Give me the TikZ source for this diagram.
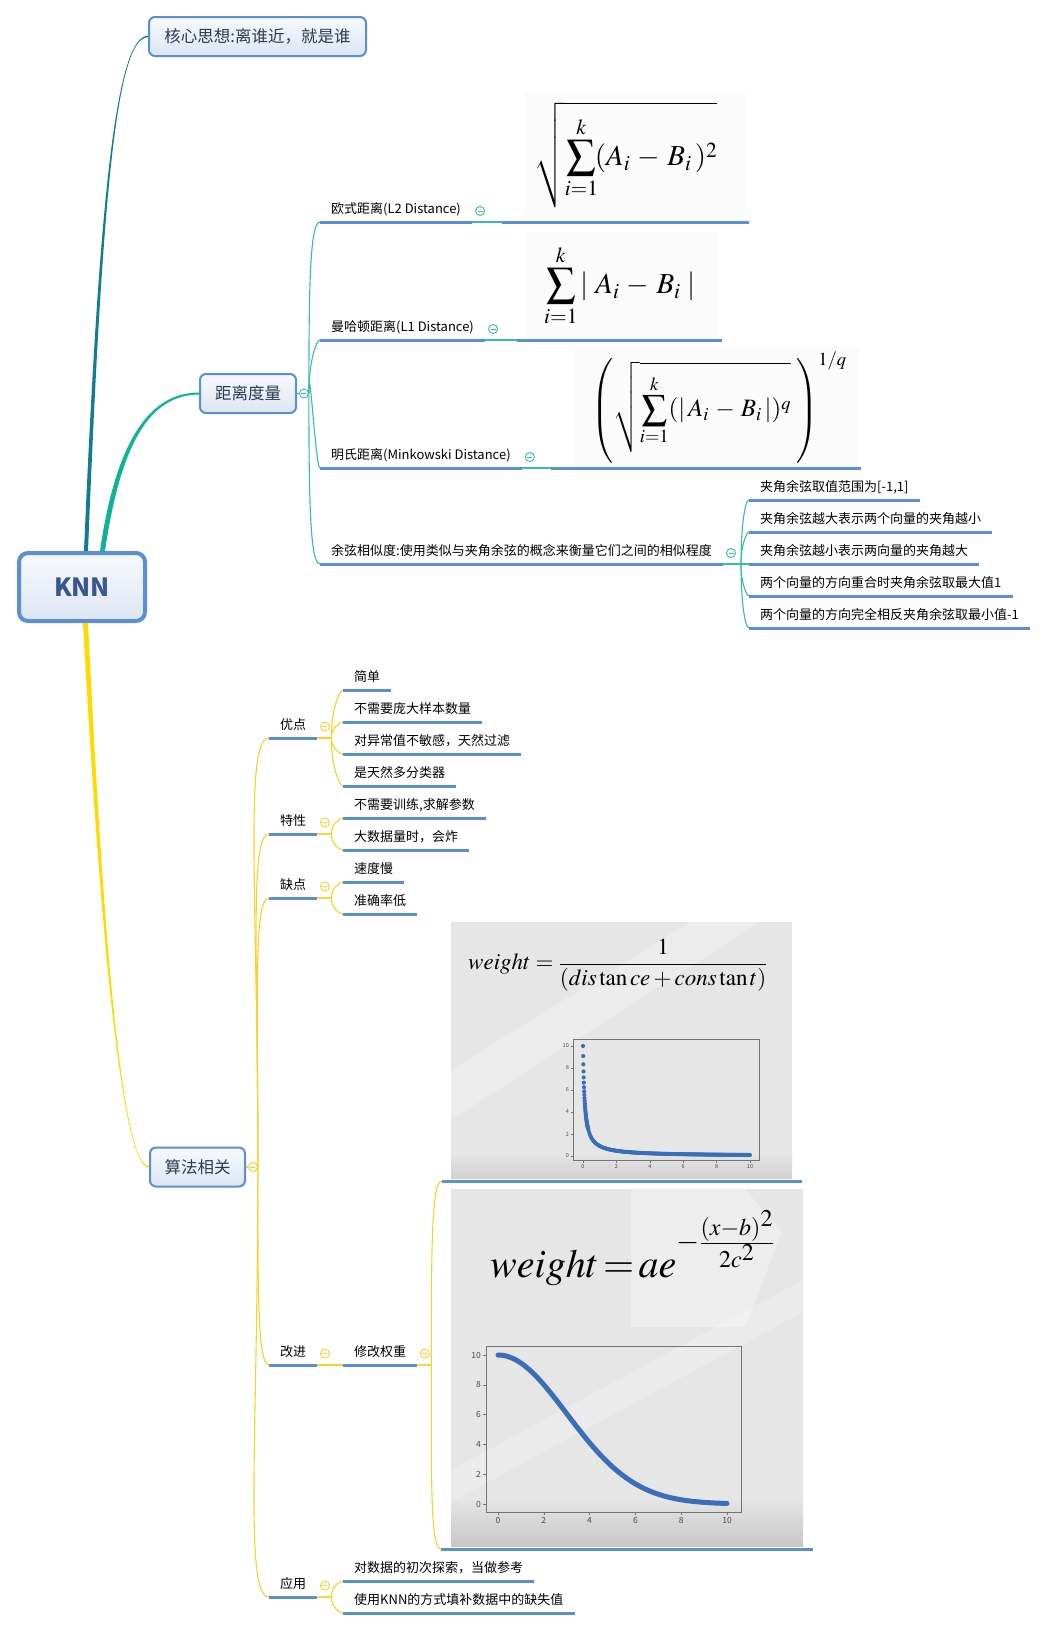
\documentclass[tikz,border=0pt]{standalone}
\usepackage{mathptmx}
\usepackage[no-math]{fontspec}
\setmainfont{Noto Sans CJK SC}
\usepackage{tikz}
\usetikzlibrary{positioning,shapes}
\usepackage{xcolor}
\definecolor{mmblue}{RGB}{91,143,213}
\definecolor{mmtop}{RGB}{247,249,253}
\definecolor{mmbot}{RGB}{221,230,243}
\definecolor{mmtext}{RGB}{44,58,82}
\definecolor{knntext}{RGB}{56,88,140}
\definecolor{mmdark}{RGB}{18,124,145}
\definecolor{mmgreen}{RGB}{16,178,152}
\definecolor{mmteal}{RGB}{52,190,168}
\definecolor{mmyellow}{RGB}{255,218,0}
\definecolor{mmyel}{RGB}{247,210,40}
\definecolor{ptblue}{RGB}{58,110,184}
\definecolor{imgbg}{RGB}{230,230,230}
\tikzstyle{root} = [rectangle, rounded corners=9, draw=mmblue, line width=4, top color=mmtop, bottom color=mmbot, text=knntext, minimum width=126, minimum height=68, font=\bfseries\fontsize{25}{28}\selectfont]
\tikzstyle{topic} = [rectangle, rounded corners=6, draw=mmblue, line width=2, top color=mmtop, bottom color=mmbot, text=mmtext, minimum height=39, font=\fontsize{16.5}{20}\selectfont]
\tikzstyle{leaf} = [anchor=south west, inner xsep=11, inner ysep=5.5, text height=10, text depth=3, font=\fontsize{13}{15}\selectfont]
\tikzstyle{formula} = [anchor=south west, inner sep=0, font=\fontsize{29}{32}\selectfont]
\tikzstyle{slot} = [anchor=south west, inner sep=0]
\tikzstyle{uline} = [line width=3, draw=mmblue]
\tikzstyle{tline} = [line width=1.1, draw=mmteal]
\tikzstyle{yline} = [line width=1.1, draw=mmyel]
\tikzstyle{minusg} = [circle, draw=mmteal, fill=white, line width=0.9, minimum size=9, inner sep=0, path picture={\draw[mmteal, line width=0.9] ([xshift=2pt]path picture bounding box.west) -- ([xshift=-2pt]path picture bounding box.east);}]
\tikzstyle{minusy} = [circle, draw=mmyel, fill=white, line width=0.9, minimum size=9, inner sep=0, path picture={\draw[mmyel, line width=0.9] ([xshift=2pt]path picture bounding box.west) -- ([xshift=-2pt]path picture bounding box.east);}]
\tikzstyle{fan} = [in=180, out looseness=1.6, in looseness=0.15]
\tikzstyle{plotframe} = [draw=black!55, line width=0.8]
\tikzstyle{ticklabel} = [inner sep=1, text=black!70]

\begin{document}
\begin{tikzpicture}[x=1pt, y=1pt]
\useasboundingbox (0,0) rectangle (1050,-1630);

% Backgrounds of the formula pictures
\fill[black!1.5] (525,-93) rectangle (746,-220);
\fill[black!1.5] (525,-232) rectangle (719,-337);
\fill[black!1.5] (575,-347) rectangle (859,-466);
\fill[imgbg] (451,-922) rectangle (792,-1178);
\fill[white, opacity=0.25] (451,-1070) -- (690,-922) -- (760,-922) -- (451,-1120) -- cycle;
\shade[top color=imgbg, bottom color=black!18] (451,-1152) rectangle (792,-1178);
\fill[imgbg] (451,-1189) rectangle (803,-1546);
\fill[white, opacity=0.3] (631,-1189) -- (745,-1189) -- (782,-1232) -- (745,-1327) -- (631,-1327) -- cycle;
\fill[white, opacity=0.2] (451,-1470) -- (803,-1280) -- (803,-1312) -- (451,-1502) -- cycle;
\shade[top color=imgbg, bottom color=black!22] (451,-1498) rectangle (803,-1546);

% Root and main topics
\node[root] (knn) at (82,-587) {KNN};
\node[topic, minimum width=217] (core) at (257.5,-36.5) {核心思想:离谁近，就是谁};
\node[topic, minimum width=96] (dist) at (248,-393.5) {距离度量};
\node[topic, minimum width=95] (algo) at (197.5,-1167) {算法相关};
\node[minusg, right=2pt of dist] (distm) {};
\node[minusy, right=2pt of algo] (algom) {};

% Distances
\node[leaf] (l2) at (320,-222) {欧式距离(L2 Distance)};
\node[leaf] (l1) at (320,-340) {曼哈顿距离(L1 Distance)};
\node[leaf] (lp) at (320,-468) {明氏距离(Minkowski Distance)};
\node[leaf] (cos) at (320,-564) {余弦相似度:使用类似与夹角余弦的概念来衡量它们之间的相似程度};
\node[formula, minimum width=247, text depth=56] (l2f) at (502,-222) {$\displaystyle\sqrt{\sum_{i=1}^{k}\!(A_i\,-\,B_i\,)^2}$};
\node[formula, minimum width=205, text depth=46] (l1f) at (517,-340) {$\displaystyle\sum_{i=1}^{k}|\;A_i\,-\,B_i\;|$};
\node[formula, minimum width=310, text depth=51, font=\fontsize{25}{28}\selectfont] (lpf) at (551,-468) {\hspace*{26pt}$\displaystyle\left(\sqrt{\sum_{i=1}^{k}(|\,A_i\,-\,B_i\,|)^q}\;\right)^{1/q}$};
\foreach \n in {l2,l1,lp,cos}
  \node[minusg, above right=7.5pt and 4.5pt of \n.south east] (\n-m) {};

% Cosine
\node[leaf] (c1) at (749,-500) {夹角余弦取值范围为[-1,1]};
\node[leaf] (c2) at (749,-532) {夹角余弦越大表示两个向量的夹角越小};
\node[leaf] (c3) at (749,-564) {夹角余弦越小表示两向量的夹角越大};
\node[leaf] (c4) at (749,-596) {两个向量的方向重合时夹角余弦取最大值1};
\node[leaf] (c5) at (749,-628) {两个向量的方向完全相反夹角余弦取最小值-1};

% Algorithm
\node[leaf] (pro) at (269,-738) {优点};
\node[leaf] (feat) at (269,-834) {特性};
\node[leaf] (con) at (269,-898) {缺点};
\node[leaf] (imp) at (269,-1365) {改进};
\node[leaf] (app) at (269,-1597) {应用};
\node[leaf] (p1) at (343,-690) {简单};
\node[leaf] (p2) at (343,-722) {不需要庞大样本数量};
\node[leaf] (p3) at (343,-754) {对异常值不敏感，天然过滤};
\node[leaf] (p4) at (343,-786) {是天然多分类器};
\node[leaf] (f1) at (343,-818) {不需要训练,求解参数};
\node[leaf] (f2) at (343,-850) {大数据量时，会炸};
\node[leaf] (n1) at (343,-882) {速度慢};
\node[leaf] (n2) at (343,-914) {准确率低};
\node[leaf] (w) at (343,-1365) {修改权重};
\node[slot, minimum width=360, minimum height=259] (img1) at (442,-1181) {};
\node[slot, minimum width=372, minimum height=360] (img2) at (441,-1549) {};
\node[leaf] (u1) at (343,-1581) {对数据的初次探索，当做参考};
\node[leaf] (u2) at (343,-1613) {使用KNN的方式填补数据中的缺失值};
\foreach \n in {pro,feat,con,imp,w,app}
  \node[minusy, above right=8pt and 4pt of \n.south east] (\n-m) {};

% Weight formulas
\node[anchor=west, inner sep=0, font=\fontsize{23}{27}\selectfont] (wt1) at (468,-965) {$\displaystyle weight=\frac{1}{(dis\tan ce+cons\tan t)}$};
\node[anchor=base west, inner sep=0, font=\fontsize{40}{44}\selectfont] (wt2) at (490,-1277) {$weight\,{=}\,ae^{\raisebox{12pt}{$\scriptstyle-\frac{(x-b)^2}{2c^2}$}}$};

% Plots
\draw[plotframe] (573,-1039) rectangle (759,-1160);
\foreach \v in {0,2,...,10} {
  \draw[plotframe, line width=0.5] (573,{-1156+11*\v}) -- ++(-2.5,0);
  \node[ticklabel, anchor=east, font=\fontsize{5.5}{6}\selectfont] (ya\v) at (570,{-1156+11*\v}) {\v};
  \draw[plotframe, line width=0.5] ({583+16.7*\v},-1160) -- ++(0,-2.5);
  \node[ticklabel, anchor=north, font=\fontsize{5.5}{6}\selectfont] (xa\v) at ({583+16.7*\v},-1163) {\v};
}
\foreach \d in {0,0.01,...,0.3}
  \fill[ptblue] ({583+16.7*\d},{-1156+11/(\d+0.1)}) circle (2.1);
\foreach \d in {0.32,0.36,...,10}
  \fill[ptblue] ({583+16.7*\d},{-1156+11/(\d+0.1)}) circle (2);

\draw[plotframe] (486,-1346) rectangle (741,-1512);
\foreach \v in {0,2,...,10} {
  \draw[plotframe, line width=0.6] (486,{-1504+14.9*\v}) -- ++(-3,0);
  \node[ticklabel, anchor=east, font=\fontsize{8.5}{9}\selectfont] (yb\v) at (482,{-1504+14.9*\v}) {\v};
  \draw[plotframe, line width=0.6] ({498+22.9*\v},-1512) -- ++(0,-3);
  \node[ticklabel, anchor=north, font=\fontsize{8.5}{9}\selectfont] (xb\v) at ({498+22.9*\v},-1516) {\v};
}
\draw[ptblue, line width=5, line cap=round] plot[domain=0:10, samples=120] ({498+22.9*\x},{-1504+149*exp(-\x*\x/18)});

% Flows
\fill[mmdark] ([xshift=2pt]knn.north) .. controls (99,-200) and (116,-35.8) .. ([yshift=0.7pt]core.west) -- ([yshift=-0.7pt]core.west) .. controls (116,-37.2) and (102,-200) .. ([xshift=6pt]knn.north) -- cycle;
\fill[mmgreen] ([xshift=18pt]knn.north) .. controls (116,-440) and (150,-392.5) .. ([yshift=1pt]dist.west) -- ([yshift=-1pt]dist.west) .. controls (150,-395) and (121,-442) .. ([xshift=23pt]knn.north) -- cycle;
\fill[mmyellow] ([xshift=1pt]knn.south) .. controls (93,-800) and (115,-1167.7) .. ([yshift=-0.7pt]algo.west) -- ([yshift=0.7pt]algo.west) .. controls (115,-1166.3) and (97,-800) .. ([xshift=6pt]knn.south) -- cycle;

\draw[tline] (dist) -- (distm);
\foreach \n/\o in {l2/90,l1/90,lp/90,cos/-90}
  \draw[tline] (distm.east) to[fan, out=\o] (\n.south west);
\foreach \n/\f in {l2/l2f,l1/l1f,lp/lpf}
  \draw[tline] (\n.south east) -- (\f.south west);
\foreach \n/\o in {c1/90,c2/90,c3/0,c4/-90,c5/-90}
  \draw[tline] (cos.south east) -- ++(18,0) to[fan, out=\o] (\n.south west);

\draw[yline] (algo) -- (algom);
\foreach \n/\o in {pro/90,feat/90,con/90,imp/-90,app/-90}
  \draw[yline] (algom.east) to[fan, out=\o] (\n.south west);
\foreach \p/\n/\o in {pro/p1/90,pro/p2/90,pro/p3/-90,pro/p4/-90,feat/f1/90,feat/f2/-90,con/n1/90,con/n2/-90,w/img1/90,w/img2/-90,app/u1/90,app/u2/-90}
  \draw[yline] (\p.south east) -- ++(14,0) to[fan, out=\o] (\n.south west);
\draw[yline] (imp.south east) -- (w.south west);

% Underlines
\foreach \n in {l2,l1,lp,cos,l2f,l1f,lpf,c1,c2,c3,c4,c5,pro,feat,con,imp,app,p1,p2,p3,p4,f1,f2,n1,n2,w,img1,img2,u1,u2}
  \draw[uline] (\n.south west) -- (\n.south east);
\end{tikzpicture}
\end{document}
